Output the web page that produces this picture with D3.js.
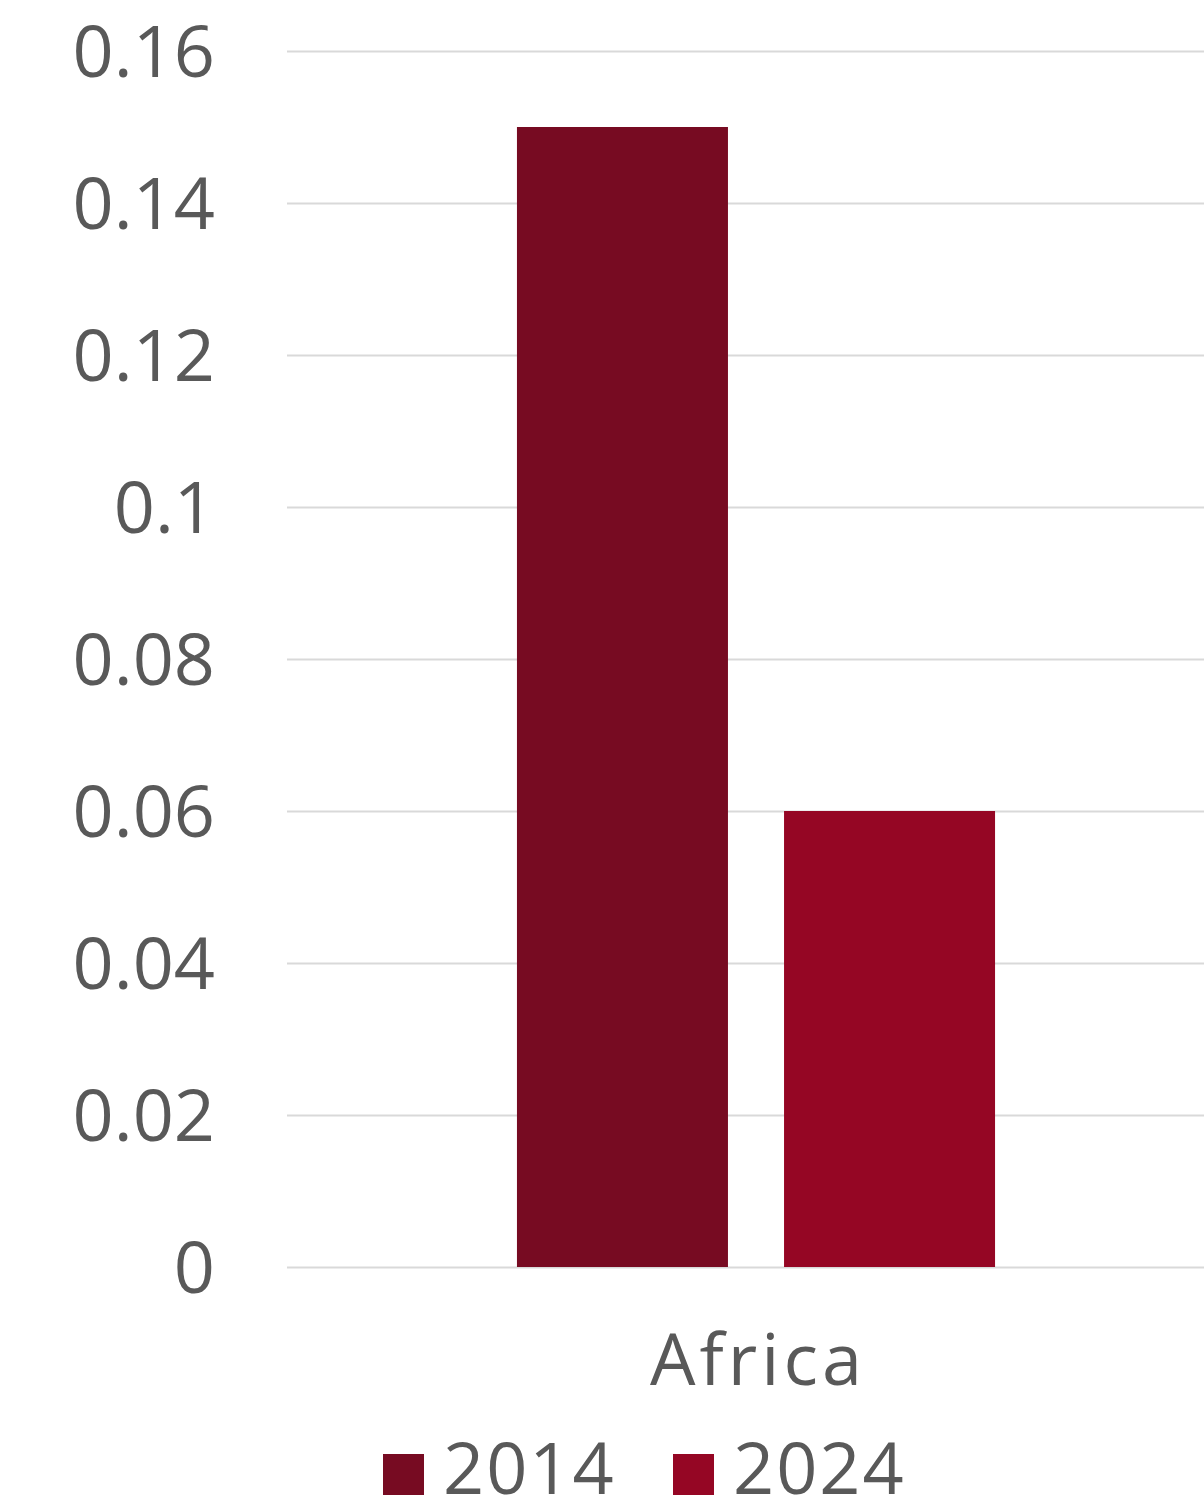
<!DOCTYPE html>
<html>
<head>
<meta charset="utf-8">
<script src="https://cdn.jsdelivr.net/npm/d3@7"></script>
<style>
  html, body { margin: 0; padding: 0; background: #ffffff; }
  svg text { font-family: "Open Sans", "Noto Sans", sans-serif; fill: #595959; }
</style>
</head>
<body>
<svg id="chart" width="1204" height="1500"></svg>
<script>
const categories = ["Africa"];
const seriesNames = ["2014", "2024"];
const values2014 = [0.15];
const values2024 = [0.06];
const tickValues = [0, 0.02, 0.04, 0.06, 0.08, 0.1, 0.12, 0.14, 0.16];
const tickLabels = ["0", "0.02", "0.04", "0.06", "0.08", "0.1", "0.12", "0.14", "0.16"];
const colors = ["#770B22", "#950624"];

(function () {
const series = [values2014, values2024];
const svg = d3.select("#chart");

const plotLeft = 287, plotRight = 1225, plotTop = 51, plotBottom = 1267;

const y = d3.scaleLinear().domain([0, 0.16]).range([plotBottom, plotTop]);
const x0 = d3.scaleBand().domain(categories).range([plotLeft, plotRight]).paddingInner(0).paddingOuter(0.481);
const x1 = d3.scaleBand().domain(seriesNames).range([0, x0.bandwidth()]).paddingInner(0.21).paddingOuter(0);

// gridlines
svg.append("g").selectAll("line").data(tickValues).join("line")
  .attr("x1", plotLeft).attr("x2", 1204)
  .attr("y1", d => Math.round(y(d)) + 0.5).attr("y2", d => Math.round(y(d)) + 0.5)
  .attr("stroke", "#d9d9d9").attr("stroke-width", 2);

// y tick labels
svg.append("g").selectAll("text").data(tickValues).join("text")
  .attr("x", 215).attr("y", d => y(d))
  .attr("dy", "0.36em")
  .attr("text-anchor", "end")
  .attr("font-size", 72)
  .text((d, i) => tickLabels[i]);

// bars
const groups = svg.append("g").selectAll("g").data(categories).join("g")
  .attr("transform", d => `translate(${x0(d)},0)`);
groups.selectAll("rect")
  .data((d, ci) => seriesNames.map((s, si) => ({ s, si, v: series[si][ci] })))
  .join("rect")
  .attr("x", d => x1(d.s))
  .attr("width", x1.bandwidth())
  .attr("y", d => y(d.v))
  .attr("height", d => y(0) - y(d.v))
  .attr("fill", d => colors[d.si]);

// category label
svg.append("g").selectAll("text").data(categories).join("text")
  .attr("x", d => x0(d) + x0.bandwidth() / 2 + 2)
  .attr("y", 1385)
  .attr("text-anchor", "middle")
  .attr("font-size", 72)
  .attr("letter-spacing", 4)
  .text(d => d);

// legend
const legendX = [383, 673];
const leg = svg.append("g").selectAll("g").data(seriesNames).join("g")
  .attr("transform", (d, i) => `translate(${legendX[i]},0)`);
leg.append("rect").attr("x", 0).attr("y", 1454).attr("width", 41).attr("height", 41)
  .attr("fill", (d, i) => colors[i]);
leg.append("text").attr("x", 60).attr("y", 1494).attr("font-size", 72)
  .attr("letter-spacing", 2).text(d => d);
})();
</script>
</body>
</html>
